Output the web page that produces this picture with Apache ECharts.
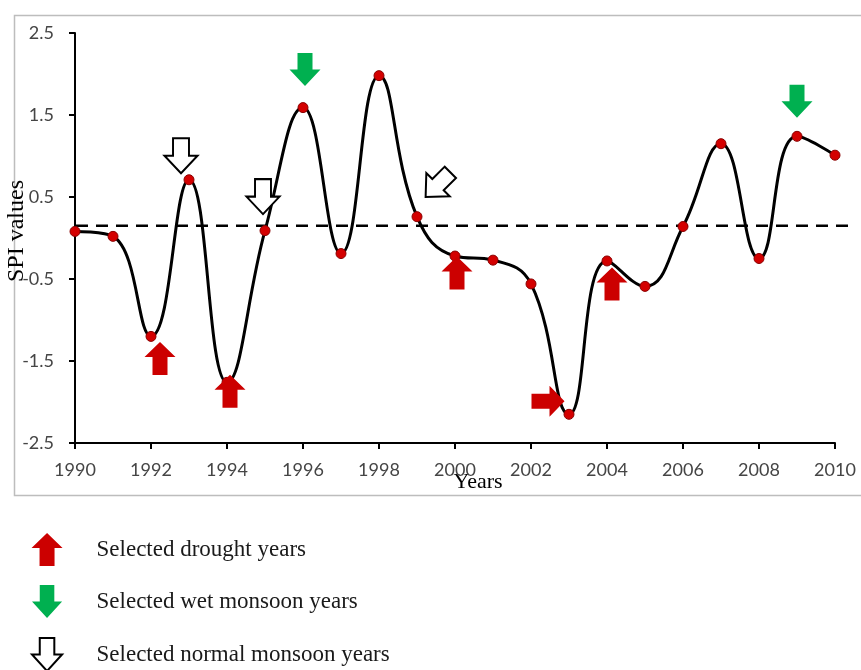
<!DOCTYPE html>
<html>
<head>
<meta charset="utf-8">
<script src="https://cdn.jsdelivr.net/npm/echarts@6/dist/echarts.min.js"></script>
<style>
  html, body { margin: 0; padding: 0; background: #fff; }
  #chart { width: 861px; height: 670px; }
</style>
</head>
<body>
<div id="chart"></div>
<script>
// Annual SPI (Standardized Precipitation Index), 1990-2010
const years = [1990, 1991, 1992, 1993, 1994, 1995, 1996, 1997, 1998, 1999, 2000,
               2001, 2002, 2003, 2004, 2005, 2006, 2007, 2008, 2009, 2010];
const spiValues = [0.08, 0.02, -1.20, 0.71, -1.76, 0.09, 1.59, -0.19, 1.98, 0.26, -0.22,
                   -0.27, -0.56, -2.15, -0.28, -0.59, 0.14, 1.15, -0.25, 1.24, 1.01];

// Horizontal dashed reference level
const referenceLevel = 0.15;

// Axis ticks
const xTickYears = [1990, 1992, 1994, 1996, 1998, 2000, 2002, 2004, 2006, 2008, 2010];
const yTickValues = [-2.5, -1.5, -0.5, 0.5, 1.5, 2.5];

// Years picked out in each class
const droughtYears = [1992, 1994, 2000, 2003, 2004];
const wetYears = [1996, 2009];
const normalYears = [1993, 1995, 1999];

const droughtName = 'Selected drought years';
const wetName = 'Selected wet monsoon years';
const normalName = 'Selected normal monsoon years';

// Where each marker arrow sits relative to its point (pixels) and how it is turned
const arrowPlacement = {
  1992: { offset: [9, 22] },
  1994: { offset: [3, 9] },
  2000: { offset: [2, 17] },
  2003: { offset: [-21, -13], rotate: -90 },
  2004: { offset: [5, 23] },
  1996: { offset: [2, -38] },
  2009: { offset: [0, -35] },
  1993: { offset: [-8, -24] },
  1995: { offset: [-2, -34] },
  1999: { offset: [21, -32], rotate: -45 }
};

const UP_ARROW = 'path://M15.5,0 L31,15 L23,15 L23,33 L8,33 L8,15 L0,15 Z';
const DOWN_ARROW = 'path://M8,0 L23,0 L23,17 L31,17 L15.5,34 L0,17 L8,17 Z';

const lineData = years.map((y, i) => [y, spiValues[i]]);

function arrowItems(list) {
  return list.map(y => {
    const p = arrowPlacement[y] || { offset: [0, 0] };
    return {
      value: [y, spiValues[years.indexOf(y)]],
      symbolOffset: p.offset,
      symbolRotate: p.rotate || 0
    };
  });
}

const axisLabelFont = { fontFamily: 'Lato', fontSize: 18, color: '#454545' };

const chart = echarts.init(document.getElementById('chart'), null, { renderer: 'canvas' });

chart.setOption({
  animation: false,
  backgroundColor: '#fff',
  graphic: [{
    type: 'rect',
    left: 12,
    top: 13,
    silent: true,
    z: -10,
    shape: { width: 900, height: 480 },
    style: { fill: 'none', stroke: '#bdbdbd', lineWidth: 1.5 }
  }],
  grid: [
    { left: 75, right: 26, top: 33, bottom: 227, containLabel: false, outerBoundsMode: 'none' },
    { left: 76, right: 8, top: 33, bottom: 227, containLabel: false, outerBoundsMode: 'none' }
  ],
  legend: {
    orient: 'vertical',
    left: 31,
    top: 533,
    height: 200,
    padding: 0,
    itemWidth: 31,
    itemHeight: 33,
    itemGap: 19,
    selectedMode: false,
    data: [droughtName, wetName, normalName],
    textStyle: {
      fontFamily: 'Liberation Serif',
      fontSize: 23,
      color: '#1a1a1a',
      padding: [0, 0, 0, 29]
    }
  },
  xAxis: [{
    type: 'value',
    gridIndex: 0,
    min: xTickYears[0],
    max: xTickYears[xTickYears.length - 1],
    interval: 2,
    axisLine: { show: true, onZero: false, lineStyle: { color: '#000', width: 2 } },
    axisTick: { show: true, length: 6, lineStyle: { color: '#000', width: 2 } },
    splitLine: { show: false },
    axisLabel: Object.assign({ margin: 18, formatter: v => String(v) }, axisLabelFont),
    name: 'Years',
    nameLocation: 'middle',
    nameGap: 28,
    nameMoveOverlap: false,
    nameTextStyle: { fontFamily: 'Liberation Serif', fontSize: 22, color: '#000', padding: [0, 0, 0, 46] }
  }, {
    type: 'value',
    gridIndex: 1,
    min: 0,
    max: 1,
    show: false
  }],
  yAxis: [{
    type: 'value',
    gridIndex: 0,
    min: yTickValues[0],
    max: yTickValues[yTickValues.length - 1],
    interval: 1,
    axisLine: { show: true, lineStyle: { color: '#000', width: 2 } },
    axisTick: { show: true, length: 6, lineStyle: { color: '#000', width: 2 } },
    splitLine: { show: false },
    axisLabel: Object.assign({ margin: 21, formatter: v => v.toFixed(1) }, axisLabelFont),
    name: 'SPI values',
    nameLocation: 'middle',
    nameRotate: 90,
    nameGap: 46,
    nameMoveOverlap: false,
    nameTextStyle: { fontFamily: 'Liberation Serif', fontSize: 24, color: '#000', padding: [0, 0, 0, 14] }
  }, {
    type: 'value',
    gridIndex: 1,
    min: yTickValues[0],
    max: yTickValues[yTickValues.length - 1],
    show: false
  }],
  series: [
    {
      name: 'Reference level',
      type: 'line',
      xAxisIndex: 1,
      yAxisIndex: 1,
      data: [[0, referenceLevel], [1, referenceLevel]],
      symbol: 'none',
      silent: true,
      z: 1,
      lineStyle: { color: '#000', width: 2.5, type: [12, 8] }
    },
    {
      name: 'SPI',
      type: 'line',
      xAxisIndex: 0,
      yAxisIndex: 0,
      data: lineData,
      smooth: 0.45,
      symbol: 'circle',
      symbolSize: 10,
      showAllSymbol: true,
      z: 2,
      lineStyle: { color: '#000', width: 3 },
      itemStyle: { color: '#d40000', borderColor: '#8a0000', borderWidth: 1 }
    },
    {
      name: droughtName,
      type: 'scatter',
      data: arrowItems(droughtYears),
      symbol: UP_ARROW,
      symbolSize: [31, 33],
      z: 4,
      itemStyle: { color: '#cc0000', opacity: 1 }
    },
    {
      name: wetName,
      type: 'scatter',
      data: arrowItems(wetYears),
      symbol: DOWN_ARROW,
      symbolSize: [31, 33],
      z: 4,
      itemStyle: { color: '#00b050', opacity: 1 }
    },
    {
      name: normalName,
      type: 'scatter',
      data: arrowItems(normalYears),
      symbol: DOWN_ARROW,
      symbolSize: [33, 35],
      z: 4,
      itemStyle: { color: '#ffffff', borderColor: '#000', borderWidth: 2, opacity: 1 }
    }
  ]
});
</script>
</body>
</html>
